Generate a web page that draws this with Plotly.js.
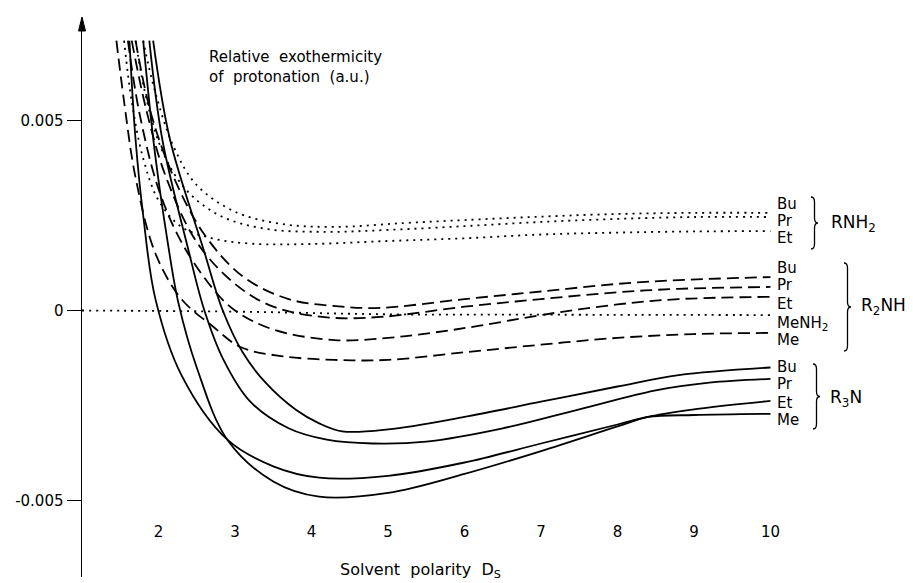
<!DOCTYPE html>
<html><head><meta charset="utf-8">
<script src="https://cdn.plot.ly/plotly-3.0.1.min.js"></script>
<style>html,body{margin:0;padding:0;background:#fff}#chart{width:913px;height:583px}</style>
</head><body><div id="chart"></div>
<script>
// ---- data ----
const xTickVals = [2, 3, 4, 5, 6, 7, 8, 9, 10];
const yTickVals = [-0.005, 0, 0.005];
const yTickText = ['-0.005', '0', '0.005'];

// RNH2 (dotted)
const rnh2EtX = [1.55, 1.65, 1.8, 2.0, 2.3, 2.7, 3.2, 4, 5, 6, 7, 8, 9, 10];
const rnh2EtY = [0.0071, 0.0055, 0.004, 0.0029, 0.0022, 0.0019, 0.00176, 0.00175, 0.00183, 0.0019, 0.002, 0.00205, 0.00208, 0.00209];
const rnh2PrX = [1.7, 1.85, 2.05, 2.35, 2.8, 3.4, 4.2, 5, 6, 7, 8, 9, 10];
const rnh2PrY = [0.0071, 0.0055, 0.0042, 0.0032, 0.0025, 0.00215, 0.00207, 0.00212, 0.00222, 0.00233, 0.00241, 0.00246, 0.00246];
const rnh2BuX = [1.8, 1.95, 2.2, 2.5, 3, 3.6, 4.3, 5.2, 6, 7, 8, 9, 10];
const rnh2BuY = [0.0071, 0.0058, 0.0043, 0.0033, 0.0026, 0.00228, 0.0022, 0.0023, 0.00238, 0.00247, 0.00254, 0.00257, 0.00257];

// MeNH2 reference (dotted)
const menh2X = [1.0, 3, 5, 7, 10];
const menh2Y = [0, -0.00003, -0.0001, -0.00011, -0.00012];

// R2NH (dashed)
const r2nhMeX = [1.45, 1.55, 1.7, 1.96, 2.3, 2.7, 3.07, 3.6, 4.3, 5, 6, 7, 8, 9, 10];
const r2nhMeY = [0.0071, 0.0055, 0.0035, 0.0015, 0.0003, -0.0004, -0.00096, -0.0012, -0.0013, -0.0013, -0.0011, -0.0009, -0.00072, -0.00062, -0.00059];
const r2nhEtX = [1.6, 1.75, 2.0, 2.3, 2.7, 3.0, 3.5, 4.3, 5.0, 5.6, 6.2, 7.0, 8.0, 8.8, 10];
const r2nhEtY = [0.0071, 0.0052, 0.0032, 0.0018, 0.0006, 0.0, -0.0005, -0.00078, -0.00072, -0.00058, -0.0004, -0.00012, 0.00016, 0.0003, 0.00036];
const r2nhPrX = [1.65, 1.85, 2.1, 2.5, 3.0, 3.5, 4.2, 4.9, 6, 7, 8, 8.8, 10];
const r2nhPrY = [0.0071, 0.0052, 0.0035, 0.0018, 0.0007, 0.0001, -0.00018, -0.00017, 0.0001, 0.0003, 0.00048, 0.00057, 0.00062];
const r2nhBuX = [1.7, 1.9, 2.2, 2.6, 3.1, 3.7, 4.4, 4.9, 6, 7, 8, 8.8, 10];
const r2nhBuY = [0.0071, 0.0052, 0.0035, 0.002, 0.0009, 0.0003, 0.0001, 0.00007, 0.0003, 0.0005, 0.0007, 0.0008, 0.00088];

// R3N (solid)
const r3nMeX = [1.62, 1.7, 1.8, 1.96, 2.3, 2.9, 3.5, 4.1, 5, 6, 7, 8, 8.4, 9, 10];
const r3nMeY = [0.0071, 0.0045, 0.0025, 0.0003, -0.0017, -0.0034, -0.0041, -0.0044, -0.00435, -0.004, -0.0035, -0.003, -0.0028, -0.00275, -0.00272];
const r3nEtX = [1.8, 1.95, 2.12, 2.26, 2.5, 2.9, 3.5, 4.1, 5, 6, 7, 8, 8.4, 9, 10];
const r3nEtY = [0.0071, 0.0042, 0.0018, 0.0002, -0.0015, -0.0034, -0.0045, -0.0049, -0.0048, -0.0043, -0.0037, -0.00305, -0.0028, -0.0026, -0.00238];
const r3nPrX = [1.88, 2.05, 2.39, 2.6, 2.85, 3.2, 3.7, 4.2, 4.8, 5.5, 6.5, 7.5, 8.5, 9.2, 10];
const r3nPrY = [0.0071, 0.0045, 0.0016, 0.0, -0.0013, -0.0024, -0.0031, -0.0034, -0.0035, -0.00345, -0.0031, -0.0026, -0.0021, -0.0019, -0.0018];
const r3nBuX = [1.93, 2.15, 2.59, 2.84, 3.1, 3.4, 3.8, 4.1, 4.4, 5, 6, 7, 8, 8.8, 10];
const r3nBuY = [0.0071, 0.0045, 0.0016, 0.0, -0.0011, -0.0019, -0.00262, -0.00297, -0.00318, -0.00313, -0.0028, -0.0024, -0.002, -0.0017, -0.0015];

// label text
const seriesLabels = ['Bu', 'Pr', 'Et', 'Me', 'MeNH<sub>2</sub>'];
const groupLabels = ['RNH<sub>2</sub>', 'R<sub>2</sub>NH', 'R<sub>3</sub>N'];
const yTitleText = 'Relative  exothermicity<br>of  protonation  (a.u.)';
const xTitleText = 'Solvent  polarity  D<sub>S</sub>';

// ---- layout geometry (pixels) ----
const W = 913, H = 583, L = 82, R = 66, T = 18, B = 6;
const PW = W - L - R, PH = H - T - B;
const px2x = px => (px - L) / PW;
const py2y = py => (H - B - py) / PH;
const FONT = 'DejaVu Sans, Liberation Sans, sans-serif';

const dotted = {color: '#000', width: 1.8, dash: '2px,5px', shape: 'spline', smoothing: 1};
const dashed = {color: '#000', width: 1.8, dash: '12px,6px', shape: 'spline', smoothing: 1};
const solid = {color: '#000', width: 1.8, dash: 'solid', shape: 'spline', smoothing: 1};

function tr(name, x, y, line) {
  return {type: 'scatter', mode: 'lines', name: name, x: x, y: y, line: line, hoverinfo: 'skip', cliponaxis: true};
}
const traces = [
  tr('RNH2 Et', rnh2EtX, rnh2EtY, dotted),
  tr('RNH2 Pr', rnh2PrX, rnh2PrY, dotted),
  tr('RNH2 Bu', rnh2BuX, rnh2BuY, dotted),
  tr('MeNH2', menh2X, menh2Y, dotted),
  tr('R2NH Me', r2nhMeX, r2nhMeY, dashed),
  tr('R2NH Et', r2nhEtX, r2nhEtY, dashed),
  tr('R2NH Pr', r2nhPrX, r2nhPrY, dashed),
  tr('R2NH Bu', r2nhBuX, r2nhBuY, dashed),
  tr('R3N Me', r3nMeX, r3nMeY, solid),
  tr('R3N Et', r3nEtX, r3nEtY, solid),
  tr('R3N Pr', r3nPrX, r3nPrY, solid),
  tr('R3N Bu', r3nBuX, r3nBuY, solid)
];

// annotations
const ann = [];
function lab(text, px, py, size, anchor) {
  ann.push({text: text, x: px2x(px), y: py2y(py), xref: 'paper', yref: 'paper',
    xanchor: anchor || 'left', yanchor: 'middle', showarrow: false,
    font: {family: FONT, size: size || 15, color: '#000'}});
}
// RNH2 group
lab(seriesLabels[0], 775, 204); lab(seriesLabels[1], 775, 221); lab(seriesLabels[2], 775, 238);
lab(groupLabels[0], 829, 224, 17);
// R2NH group
lab(seriesLabels[0], 775, 268); lab(seriesLabels[1], 775, 285); lab(seriesLabels[2], 775, 304);
lab(seriesLabels[4], 775, 323); lab(seriesLabels[3], 775, 340);
lab(groupLabels[1], 859, 307, 17);
// R3N group
lab(seriesLabels[0], 775, 367); lab(seriesLabels[1], 775, 384); lab(seriesLabels[2], 775, 403); lab(seriesLabels[3], 775, 420);
lab(groupLabels[2], 828, 398, 17);
// titles
ann.push({text: yTitleText, x: px2x(207), y: py2y(67), xref: 'paper', yref: 'paper', xanchor: 'left', yanchor: 'middle',
  align: 'left', showarrow: false, font: {family: FONT, size: 15, color: '#000'}});
lab(xTitleText, 420, 570, 16, 'center');

// braces (decorative shapes)
function brace(x0, yT, yB, w) {
  const xm = x0 + w / 2, xt = x0 + w, yM = (yT + yB) / 2, r = 5;
  const p = (a, b) => px2x(a).toFixed(5) + ',' + py2y(b).toFixed(5);
  return 'M' + p(x0, yT) + ' Q' + p(xm, yT) + ' ' + p(xm, yT + r) + ' L' + p(xm, yM - r) +
    ' Q' + p(xm, yM) + ' ' + p(xt, yM) + ' Q' + p(xm, yM) + ' ' + p(xm, yM + r) +
    ' L' + p(xm, yB - r) + ' Q' + p(xm, yB) + ' ' + p(x0, yB);
}
const shapes = [
  {type: 'path', xref: 'paper', yref: 'paper', path: brace(811, 197, 249, 7), line: {color: '#000', width: 1.3}},
  {type: 'path', xref: 'paper', yref: 'paper', path: brace(844, 263, 351, 7), line: {color: '#000', width: 1.3}},
  {type: 'path', xref: 'paper', yref: 'paper', path: brace(813, 364, 429, 7), line: {color: '#000', width: 1.3}},
  // arrow head on the y axis
  {type: 'path', xref: 'paper', yref: 'paper',
   path: 'M' + px2x(82) + ',' + py2y(17) + ' L' + px2x(78.5) + ',' + py2y(31) + ' L' + px2x(85.5) + ',' + py2y(31) + ' Z',
   fillcolor: '#000', line: {color: '#000', width: 1}}
];

const layout = {
  width: W, height: H,
  margin: {l: L, r: R, t: T, b: B, pad: 0},
  paper_bgcolor: '#fff', plot_bgcolor: '#fff',
  showlegend: false,
  font: {family: FONT, color: '#000', size: 15},
  xaxis: {
    range: [1.0, 11.0], tickvals: xTickVals, ticks: '', showline: false, showgrid: false, zeroline: false,
    anchor: 'free', position: py2y(521), tickfont: {family: FONT, size: 15, color: '#000'}
  },
  yaxis: {
    range: [-0.0070132, 0.0076974], tickvals: yTickVals, ticktext: yTickText,
    ticks: 'outside', ticklen: 14, tickwidth: 1.4, tickcolor: '#000',
    showline: true, linewidth: 1.5, linecolor: '#000', showgrid: false, zeroline: false,
    tickfont: {family: FONT, size: 15, color: '#000'}
  },
  annotations: ann,
  shapes: shapes
};

Plotly.newPlot('chart', traces, layout, {staticPlot: true, displayModeBar: false});
</script>
</body></html>
